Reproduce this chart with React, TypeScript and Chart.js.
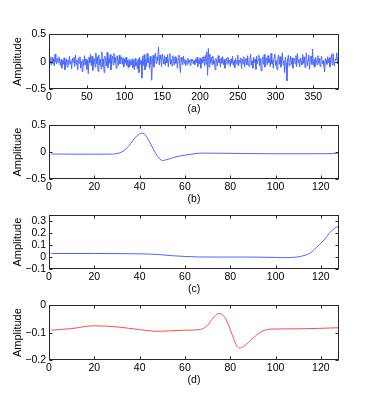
import React, { useEffect, useRef } from "react";
import { Chart, registerables } from "chart.js";
Chart.register(...registerables);

// Panel (a): noisy signal, x = 1..384
const noiseA: number[] = [
  0.10, 0.02, -0.06, 0.08, -0.03, 0.05, -0.08, 0.14, 0.01, -0.04, 0.06, -0.02, 0.09, 0.03, -0.07, 0.04, -0.12, 0.02, -0.05, 0.07, -0.15, -0.02, 0.05, -0.10,
  0.03, -0.06, 0.10, -0.04, 0.02, -0.13, 0.06, -0.01, 0.08, -0.09, 0.12, -0.05, 0.03, -0.15, 0.07, -0.03, 0.09, -0.12, 0.01, -0.18, 0.04, -0.08, 0.11, -0.06,
  0.05, -0.14, 0.02, -0.22, 0.08, -0.02, 0.14, -0.07, 0.10, -0.16, 0.03, 0.06, -0.10, 0.16, -0.04, 0.09, -0.18, 0.12, -0.06, 0.04, -0.13, 0.18, -0.09, 0.05,
  -0.20, 0.10, 0.02, -0.08, 0.17, -0.11, 0.07, -0.03, 0.13, -0.15, 0.04, 0.10, -0.06, 0.15, -0.02, 0.08, -0.12, 0.11, 0.03, -0.07, 0.12, -0.04, 0.06, 0.09,
  -0.05, 0.07, -0.10, 0.05, -0.03, 0.08, -0.07, 0.02, -0.12, 0.04, -0.09, 0.01, -0.06, 0.05, -0.11, 0.03, -0.15, 0.06, -0.08, 0.00, -0.13, 0.05, -0.20, 0.08,
  -0.05, 0.02, -0.30, 0.10, -0.07, 0.13, -0.15, 0.04, -0.09, 0.15, -0.02, 0.06, -0.12, 0.10, -0.05, -0.34, 0.04, 0.12, -0.10, 0.07, 0.16, -0.03, 0.09, 0.02,
  0.27, -0.06, 0.12, 0.05, -0.09, 0.14, 0.02, -0.04, 0.11, -0.07, 0.08, -0.02, 0.13, -0.10, 0.06, 0.15, -0.05, 0.04, -0.08, 0.11, 0.02, -0.06, 0.09, -0.03,
  0.07, -0.12, 0.05, 0.12, -0.04, -0.20, 0.08, 0.01, -0.06, 0.10, -0.03, 0.04, -0.08, 0.02, -0.05, 0.06, -0.02, 0.03, -0.07, 0.05, -0.01, 0.04, -0.04, 0.02,
  -0.06, 0.05, -0.02, 0.08, -0.09, 0.03, -0.04, 0.07, -0.12, 0.04, -0.03, 0.09, 0.01, -0.08, 0.12, -0.05, 0.18, -0.25, 0.24, -0.10, 0.14, -0.03, 0.08, -0.06,
  0.10, -0.04, 0.02, -0.15, 0.06, 0.00, -0.08, 0.11, -0.02, 0.05, -0.10, 0.07, -0.03, 0.09, -0.06, 0.04, -0.12, 0.02, 0.06, -0.05, 0.08, -0.02, 0.03, -0.09,
  0.05, -0.03, 0.10, -0.07, 0.02, -0.11, 0.06, 0.01, -0.05, 0.12, -0.08, 0.03, -0.02, 0.07, -0.13, 0.05, -0.04, 0.09, -0.10, 0.02, 0.06, -0.06, 0.11, -0.03,
  -0.09, 0.04, 0.14, -0.06, 0.02, -0.12, 0.08, -0.02, 0.05, -0.14, 0.10, -0.04, 0.03, 0.12, -0.08, 0.06, -0.17, 0.04, 0.09, -0.05, 0.13, -0.10, 0.02, 0.07,
  -0.06, 0.11, -0.02, 0.05, -0.09, 0.15, -0.04, 0.03, -0.12, 0.08, 0.14, -0.07, 0.02, -0.15, 0.06, 0.12, -0.05, 0.09, -0.10, 0.04, 0.16, -0.06, 0.02, -0.20,
  0.08, -0.03, -0.35, 0.05, 0.12, -0.08, 0.03, 0.10, -0.05, 0.07, -0.12, 0.02, 0.06, -0.04, 0.11, -0.09, 0.15, -0.02, 0.04, -0.10, 0.07, 0.01, -0.06, 0.13,
  -0.03, 0.09, -0.11, 0.05, 0.16, -0.08, 0.02, 0.12, -0.14, 0.06, 0.10, -0.05, 0.23, -0.07, 0.04, -0.10, 0.08, 0.02, -0.06, 0.11, -0.03, 0.06, -0.09, 0.05,
  0.10, -0.04, 0.02, -0.08, -0.19, 0.06, 0.03, -0.05, 0.09, -0.02, 0.07, -0.10, 0.04, 0.13, -0.06, 0.15, 0.02, -0.08, 0.05, 0.03, 0.16, -0.04, 0.08, -0.07,
];

// Panel (b)
const bX = [1, 10, 20, 28, 30, 32, 34, 36, 38, 40, 41, 42, 44, 46, 48, 50, 52, 55, 58, 61, 64, 68, 75, 85, 100, 115, 125, 128];
const bY = [-0.035, -0.037, -0.038, -0.036, -0.025, 0.0, 0.06, 0.16, 0.27, 0.34, 0.355, 0.34, 0.22, 0.06, -0.08, -0.155, -0.14, -0.1, -0.07, -0.05, -0.03, -0.018, -0.02, -0.025, -0.03, -0.03, -0.028, -0.015];

// Panel (c)
const cX = [1, 20, 40, 48, 54, 60, 66, 75, 90, 100, 104, 108, 111, 113, 115, 118, 121, 124, 126, 128];
const cY = [0.03, 0.03, 0.027, 0.022, 0.012, 0.005, 0.001, 0.0, 0.0, -0.003, -0.005, -0.002, 0.005, 0.015, 0.03, 0.08, 0.135, 0.205, 0.24, 0.26];

// Panel (d)
const dX = [1, 10, 20, 30, 40, 48, 60, 67, 70, 72, 75, 77, 79, 81, 83, 84, 86, 90, 94, 98, 110, 128];
const dY = [-0.091, -0.085, -0.075, -0.079, -0.089, -0.095, -0.091, -0.088, -0.073, -0.051, -0.03, -0.038, -0.067, -0.111, -0.15, -0.156, -0.15, -0.12, -0.095, -0.087, -0.086, -0.082];

const xTicksA = [0, 50, 100, 150, 200, 250, 300, 350];
const xTicksB = [0, 20, 40, 60, 80, 100, 120];
const yTicksA = [-0.5, 0, 0.5];
const yTicksB = [-0.5, 0, 0.5];
const yTicksC = [-0.1, 0, 0.1, 0.2, 0.3];
const yTicksD = [-0.2, -0.1, 0];
const captions = ["(a)", "(b)", "(c)", "(d)"];

const BLUE = "rgb(75,105,255)";
const RED = "rgb(255,75,75)";
const FONT = "'Liberation Sans', Arial, Helvetica, sans-serif";

type Panel = {
  xs: number[];
  ys: number[];
  xMax: number;
  xTicks: number[];
  yMin: number;
  yMax: number;
  yTicks: number[];
  color: string;
  smooth: boolean;
  caption: string;
  plotTop: number;
  plotHeight: number;
};

const panels: Panel[] = [
  { xs: noiseA.map((_, i) => i + 1), ys: noiseA, xMax: 384, xTicks: xTicksA, yMin: -0.5, yMax: 0.5, yTicks: yTicksA, color: BLUE, smooth: false, caption: captions[0], plotTop: 31, plotHeight: 58 },
  { xs: bX, ys: bY, xMax: 128, xTicks: xTicksB, yMin: -0.5, yMax: 0.5, yTicks: yTicksB, color: BLUE, smooth: true, caption: captions[1], plotTop: 122, plotHeight: 57 },
  { xs: cX, ys: cY, xMax: 128, xTicks: xTicksB, yMin: -0.1, yMax: 0.35, yTicks: yTicksC, color: BLUE, smooth: true, caption: captions[2], plotTop: 212, plotHeight: 57 },
  { xs: dX, ys: dY, xMax: 128, xTicks: xTicksB, yMin: -0.2, yMax: 0, yTicks: yTicksD, color: RED, smooth: true, caption: captions[3], plotTop: 302, plotHeight: 58 },
];

const PLOT_LEFT = 49;
const PLOT_RIGHT = 339;
const TOP_PAD = 6;
const X_AXIS_H = 26;
const W = 374;

const fmt = (v: number) => {
  if (Math.abs(v) < 1e-9) return "0";
  const s = String(Math.round(v * 1000) / 1000);
  return s.replace("-", "\u2212");
};

const boxPlugin = {
  id: "matlabBox",
  afterDraw(chart: any) {
    const { ctx, chartArea } = chart;
    const { left, right, top, bottom } = chartArea;
    ctx.save();
    ctx.strokeStyle = "#262626";
    ctx.lineWidth = 1;
    const L = Math.round(left) + 0.5;
    const R = Math.round(right) - 0.5;
    const T = Math.round(top) + 0.5;
    const B = Math.round(bottom) - 0.5;
    ctx.strokeRect(L, T, R - L, B - T);
    const tl = 3;
    ctx.beginPath();
    const xs = chart.scales.x;
    xs.ticks.forEach((t: any) => {
      const px = Math.round(xs.getPixelForValue(t.value)) + 0.5;
      ctx.moveTo(px, B);
      ctx.lineTo(px, B - tl);
      ctx.moveTo(px, T);
      ctx.lineTo(px, T + tl);
    });
    const ys = chart.scales.y;
    ys.ticks.forEach((t: any) => {
      const py = Math.round(ys.getPixelForValue(t.value)) + 0.5;
      ctx.moveTo(L, py);
      ctx.lineTo(L + tl, py);
      ctx.moveTo(R, py);
      ctx.lineTo(R - tl, py);
    });
    ctx.stroke();
    ctx.restore();
  },
};

function PanelChart({ p }: { p: Panel }) {
  const ref = useRef<HTMLCanvasElement>(null);
  const height = TOP_PAD + p.plotHeight + X_AXIS_H;
  useEffect(() => {
    if (!ref.current) return;
    const chart = new Chart(ref.current, {
      type: "line",
      data: {
        datasets: [
          {
            data: p.xs.map((x, i) => ({ x, y: p.ys[i] })),
            borderColor: p.color,
            borderWidth: 1,
            pointRadius: 0,
            fill: false,
            cubicInterpolationMode: p.smooth ? "monotone" : "default",
            tension: 0,
          },
        ],
      },
      options: {
        animation: false,
        responsive: false,
        maintainAspectRatio: false,
        devicePixelRatio: 1,
        plugins: { legend: { display: false }, tooltip: { enabled: false } },
        layout: { padding: { left: 0, right: W - PLOT_RIGHT, top: TOP_PAD, bottom: 0 } },
        scales: {
          x: {
            type: "linear",
            min: 0,
            max: p.xMax,
            grid: { display: false, drawTicks: false },
            border: { display: false },
            afterBuildTicks: (s: any) => {
              s.ticks = p.xTicks.map((v) => ({ value: v }));
            },
            afterFit: (s: any) => {
              s.height = X_AXIS_H;
            },
            ticks: {
              color: "#000",
              font: { family: FONT, size: 10.5 },
              padding: 2,
              maxRotation: 0,
              autoSkip: false,
              callback: (v: any) => fmt(Number(v)),
            },
            title: {
              display: true,
              text: p.caption,
              color: "#000",
              font: { family: FONT, size: 10.5 },
              padding: { top: 0, bottom: 0 },
            },
          },
          y: {
            type: "linear",
            min: p.yMin,
            max: p.yMax,
            grid: { display: false, drawTicks: false },
            border: { display: false },
            afterBuildTicks: (s: any) => {
              s.ticks = p.yTicks.map((v) => ({ value: v }));
            },
            afterFit: (s: any) => {
              s.width = PLOT_LEFT;
            },
            ticks: {
              color: "#000",
              font: { family: FONT, size: 10.5 },
              padding: 3,
              autoSkip: false,
              callback: (v: any) => fmt(Number(v)),
            },
            title: {
              display: true,
              text: "Amplitude",
              color: "#000",
              font: { family: FONT, size: 11 },
              padding: { top: 11, bottom: 0 },
            },
          },
        },
      },
      plugins: [boxPlugin],
    } as any);
    return () => chart.destroy();
  }, [p]);
  return (
    <div style={{ position: "absolute", left: 0, top: p.plotTop - TOP_PAD, width: W, height }}>
      <canvas ref={ref} width={W} height={height} style={{ width: W, height, display: "block" }} />
    </div>
  );
}

export default function App() {
  return (
    <div style={{ position: "fixed", left: 0, top: 0, width: 374, height: 415, background: "#fff", overflow: "hidden" }}>
      {panels.map((p, i) => (
        <PanelChart key={i} p={p} />
      ))}
    </div>
  );
}
